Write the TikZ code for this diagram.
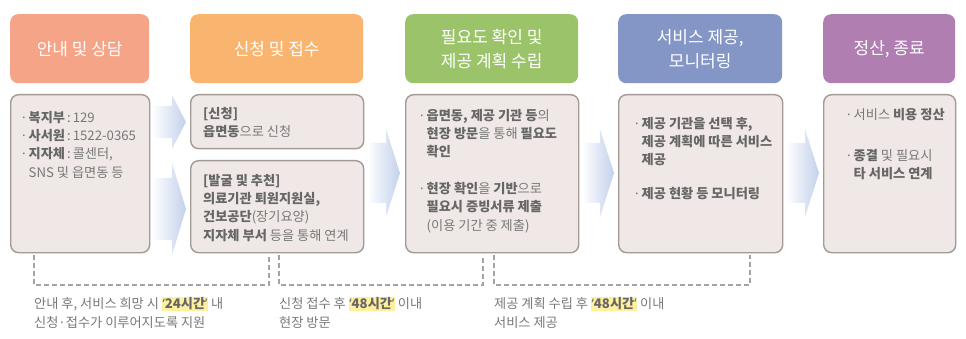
\documentclass[tikz,border=0pt]{standalone}
\usepackage{fontspec}
\setmainfont{Noto Sans CJK KR}
\newfontfamily\qf{Noto Sans}
\usetikzlibrary{calc}
\definecolor{hA}{HTML}{F5A487}
\definecolor{hB}{HTML}{F9B570}
\definecolor{hC}{HTML}{9BC46A}
\definecolor{hD}{HTML}{8496C5}
\definecolor{hE}{HTML}{B07EB1}
\definecolor{bodyfill}{HTML}{EFE8E6}
\definecolor{bodyline}{HTML}{A39A96}
\definecolor{arrowc}{HTML}{C3D1EB}
\definecolor{txt}{HTML}{787878}
\definecolor{boldtxt}{HTML}{666666}
\definecolor{dashc}{HTML}{A3A3A3}
\definecolor{hlc}{HTML}{FFF0A0}
\newcommand\bd[1]{{\bfseries\color{boldtxt}#1}}
\newcommand\bul{\makebox[6.5pt][l]{\qf ·}}
\newcommand\ind{\hspace*{6.5pt}}
\newcommand\oqt{{\qf\bfseries ‘}}
\newcommand\cqt{{\qf\bfseries ’}}
\newcommand\hlt[1]{{\setlength\fboxsep{0.6pt}\colorbox{hlc}{\bd{#1}}}}
\newcommand\flowarrow[5]{%
  \shade[left color=white, right color=arrowc]
    (#1,{#3-#4}) -- ({#2-14},{#3-#4}) -- ({#2-14},{#3-#5}) -- (#2,#3)
    -- ({#2-14},{#3+#5}) -- ({#2-14},{#3+#4}) -- (#1,{#3+#4}) -- cycle;}
\tikzset{
  header/.style={anchor=north west, rounded corners=8pt, inner sep=0pt,
    minimum height=69pt, text=white, align=center,
    font=\fontsize{17}{24}\selectfont},
  bodybox/.style={anchor=north west, rounded corners=8pt, inner sep=0pt,
    fill=bodyfill, draw=bodyline, line width=1.4pt},
  bodytext/.style={anchor=north west, inner sep=0pt, align=left, text=txt,
    font=\fontsize{13.2}{18.3}\selectfont, execute at begin node={\rule{0pt}{12pt}}},
  notetext/.style={anchor=north west, inner sep=0pt, align=left, text=txt,
    font=\fontsize{13.2}{19}\selectfont, execute at begin node={\rule{0pt}{12pt}}},
  dashline/.style={draw=dashc, line width=1.1pt, dash pattern=on 5pt off 3pt}
}
\begin{document}
\begin{tikzpicture}[x=1pt,y=-1pt]
\useasboundingbox (0,0) rectangle (966,339);
% headers
\node[header, fill=hA, minimum width=139pt] (h1) at (10,14) {안내 및 상담};
\node[header, fill=hB, minimum width=173pt] (h2) at (190,14) {신청 및 접수};
\node[header, fill=hC, minimum width=173pt] (h3) at (405,14) {필요도 확인 및\\제공 계획 수립};
\node[header, fill=hD, minimum width=164pt] (h4) at (618,14) {서비스 제공,\\모니터링};
\node[header, fill=hE, minimum width=132pt] (h5) at (823,14) {정산, 종료};
% bodies
\node[bodybox, minimum width=139pt, minimum height=158pt] (b1) at (10,94) {};
\node[bodybox, minimum width=173pt, minimum height=54pt] (b2a) at (190,94) {};
\node[bodybox, minimum width=173pt, minimum height=92pt] (b2b) at (190,160) {};
\node[bodybox, minimum width=173pt, minimum height=158pt] (b3) at (405,94) {};
\node[bodybox, minimum width=164pt, minimum height=158pt] (b4) at (618,94) {};
\node[bodybox, minimum width=132pt, minimum height=158pt] (b5) at (823,94) {};
% arrows
\flowarrow{152}{186}{122}{16}{27}
\flowarrow{152}{186}{209}{31}{46}
\flowarrow{367}{400}{173}{30}{44}
\flowarrow{582}{614}{173}{30}{44}
\flowarrow{786}{819}{173}{30}{44}
% body texts
\node[bodytext] (t1) at (22,111) {\bul\bd{복지부}\hspace{2pt}:\hspace{2pt}129\\
\bul\bd{사서원}\hspace{2pt}:\hspace{2pt}1522-0365\\
\bul\bd{지자체}\hspace{2pt}:\hspace{2pt}콜센터,\\
\ind SNS 및 읍면동 등};
\node[bodytext] (t2a) at (203,107) {\bd{[신청]}\\\bd{읍면동}으로 신청};
\node[bodytext] (t2b) at (203,174) {\bd{[발굴 및 추천]}\\\bd{의료기관 퇴원지원실,}\\\bd{건보공단}(장기요양)\\\bd{지자체 부서} 등을 통해 연계};
\node[bodytext] (t3a) at (420,109) {\bul\bd{읍면동, 제공 기관 등}의\\\ind\bd{현장 방문}을 통해 \bd{필요도}\\\ind\bd{확인}};
\node[bodytext] (t3b) at (420,182) {\bul\bd{현장 확인}을 \bd{기반}으로\\\ind\bd{필요시 증빙서류 제출}\\\ind(이용 기간 중 제출)};
\node[bodytext] (t4a) at (635,117) {\bul\bd{제공 기관을 선택 후,}\\\ind\bd{제공 계획에 따른 서비스}\\\ind\bd{제공}};
\node[bodytext] (t4b) at (635,186) {\bul\bd{제공 현황 등 모니터링}};
\node[bodytext] (t5a) at (847,107) {\bul 서비스 \bd{비용 정산}};
\node[bodytext] (t5b) at (847,149) {\bul\bd{종결} 및 필요시\\\ind\bd{타 서비스 연계}};
% dashed brackets
\coordinate (d1a) at (34,255); \coordinate (d1b) at (269,255);
\coordinate (d2a) at (279,255); \coordinate (d2b) at (483,255);
\coordinate (d3a) at (494,255); \coordinate (d3b) at (750,255);
\draw[dashline] (d1a) -- (34,285) -- (269,285) -- (d1b);
\draw[dashline] (d2a) -- (279,285) -- (483,285) -- (d2b);
\draw[dashline] (d3a) -- (494,285) -- (750,285) -- (d3b);
% notes
\node[notetext] (n1) at (34,297) {안내 후, 서비스 희망 시 \hlt{\oqt 24시간\cqt} 내\\신청·접수가 이루어지도록 지원};
\node[notetext] (n2) at (279,297) {신청 접수 후 \hlt{\oqt 48시간\cqt} 이내\\현장 방문};
\node[notetext] (n3) at (494,297) {제공 계획 수립 후 \hlt{\oqt 48시간\cqt} 이내\\서비스 제공};
\end{tikzpicture}
\end{document}
